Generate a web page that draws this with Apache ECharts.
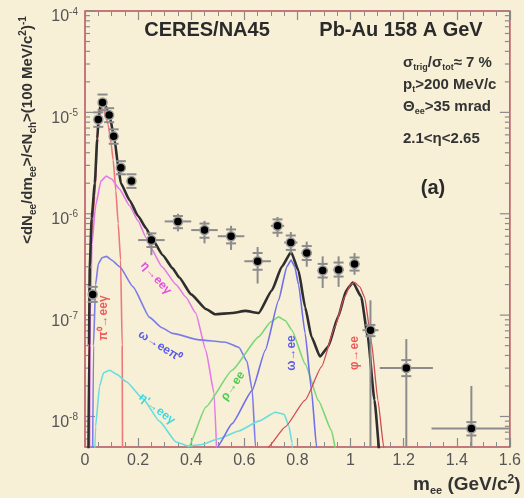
<!DOCTYPE html>
<html>
<head>
<meta charset="utf-8">
<script src="https://cdn.jsdelivr.net/npm/echarts@6/dist/echarts.min.js"></script>
<style>
  html, body { margin: 0; padding: 0; background: #f7efd6; }
  #main { width: 524px; height: 498px; }
</style>
</head>
<body>
<div id="main"></div>
<script>
var chartDom = document.getElementById('main');
var myChart = echarts.init(chartDom);

// data points (m_ee, yield) with stat / sys errors
var dataX   = [0.029, 0.050, 0.066, 0.091, 0.108, 0.135, 0.175, 0.25, 0.35, 0.45, 0.55, 0.65, 0.725, 0.775, 0.835, 0.895, 0.955, 1.015, 1.075, 1.21, 1.455];
var dataY   = [1.6e-7, 8.5e-6, 1.25e-5, 9.4e-6, 5.8e-6, 2.85e-6, 2.1e-6, 5.5e-7, 8.4e-7, 6.9e-7, 6.0e-7, 3.4e-7, 7.6e-7, 5.2e-7, 4.1e-7, 2.75e-7, 2.8e-7, 3.2e-7, 7.1e-8, 3.0e-8, 7.6e-9];
var xErr    = [0.004, 0.004, 0.004, 0.004, 0.004, 0.004, 0.004, 0.05, 0.05, 0.05, 0.05, 0.05, 0.025, 0.025, 0.02, 0.02, 0.02, 0.02, 0.03, 0.1, 0.15];
var statLo  = [1.4e-7, 7.9e-6, 1.16e-5, 8.7e-6, 5.4e-6, 2.6e-6, 1.9e-6, 3.9e-7, 6.7e-7, 5.1e-7, 4.4e-7, 2.05e-7, 5.9e-7, 4.05e-7, 3.0e-7, 1.85e-7, 1.9e-7, 2.5e-7, 1e-9, 1e-9, 1e-9];
var statHi  = [1.8e-7, 9.1e-6, 1.34e-5, 1.0e-5, 6.2e-6, 3.1e-6, 2.3e-6, 6.5e-7, 1.0e-6, 8.5e-7, 7.6e-7, 4.7e-7, 9.3e-7, 6.6e-7, 5.3e-7, 3.8e-7, 3.8e-7, 4.1e-7, 1.4e-7, 5.8e-8, 2.0e-8];
var sysLo   = [1.35e-7, 7.2e-6, 1.05e-5, 8.0e-6, 4.9e-6, 2.45e-6, 1.8e-6, 4.7e-7, 7.2e-7, 5.8e-7, 5.1e-7, 2.8e-7, 6.5e-7, 4.4e-7, 3.5e-7, 2.35e-7, 2.4e-7, 2.75e-7, 6.2e-8, 2.5e-8, 6.5e-9];
var sysHi   = [1.9e-7, 1.0e-5, 1.5e-5, 1.1e-5, 6.8e-6, 3.3e-6, 2.45e-6, 6.4e-7, 9.5e-7, 8.0e-7, 7.0e-7, 4.1e-7, 8.8e-7, 6.1e-7, 4.8e-7, 3.2e-7, 3.3e-7, 3.7e-7, 8.0e-8, 3.6e-8, 8.8e-9];

// cocktail curves [m_ee, yield]
var pi0Dalitz = [[0.011,1e-9],[0.014,3e-8],[0.017,2e-7],[0.025,6e-7],[0.037,1.5e-6],[0.046,4.8e-6],[0.053,8.5e-6],[0.062,1.1e-5],[0.072,1.05e-5],[0.087,7.6e-6],[0.098,5e-6],[0.106,3.4e-6],[0.116,1.7e-6],[0.125,8e-7],[0.134,3.5e-7],[0.14,5e-8],[0.142,1e-9]];
var etaDalitz = [[0.016,1e-9],[0.02,1e-7],[0.026,5e-7],[0.04,1.2e-6],[0.06,2.1e-6],[0.08,2.35e-6],[0.1,2.2e-6],[0.13,1.75e-6],[0.168,1.2e-6],[0.2,8.5e-7],[0.23,5.8e-7],[0.25,4.5e-7],[0.29,3.0e-7],[0.343,2.0e-7],[0.38,1.5e-7],[0.417,1.05e-7],[0.455,4.5e-8],[0.486,1.7e-8],[0.505,1e-9]];
var omegaDalitz = [[0.027,1e-9],[0.032,5e-8],[0.04,2e-7],[0.05,3.2e-7],[0.065,3.7e-7],[0.081,3.8e-7],[0.1,3.5e-7],[0.131,3.0e-7],[0.181,1.9e-7],[0.243,9.5e-8],[0.29,7.5e-8],[0.33,6.6e-8],[0.43,5.7e-8],[0.53,5.4e-8],[0.58,4.8e-8],[0.61,3.5e-8],[0.63,1.8e-8],[0.642,5e-9],[0.648,1e-9]];
var etaPrimeDalitz = [[0.029,1e-9],[0.04,8e-9],[0.055,2e-8],[0.07,2.7e-8],[0.093,2.86e-8],[0.12,2.6e-8],[0.156,2.2e-8],[0.218,1.5e-8],[0.28,9e-9],[0.343,5.6e-9],[0.39,5.1e-9],[0.44,5.3e-9],[0.5,6.0e-9],[0.58,7.2e-9],[0.654,9e-9],[0.717,1.1e-8],[0.75,1.05e-8],[0.768,8e-9],[0.78,5.5e-9],[0.79,1e-9]];
var rhoEE = [[0.375,1e-9],[0.39,5e-9],[0.455,1.24e-8],[0.554,2.86e-8],[0.654,6.1e-8],[0.70,8.6e-8],[0.729,9.6e-8],[0.755,8.8e-8],[0.779,7.1e-8],[0.829,3.3e-8],[0.879,1.44e-8],[0.928,7.3e-9],[0.95,4e-9],[0.955,1e-9]];
var omegaEE = [[0.49,1e-9],[0.498,5e-9],[0.554,8.5e-9],[0.629,1.8e-8],[0.679,4.5e-8],[0.729,1.4e-7],[0.76,3.0e-7],[0.776,3.5e-7],[0.79,3.0e-7],[0.804,2.0e-7],[0.829,6.6e-8],[0.853,1.8e-8],[0.872,5e-9],[0.876,1e-9]];
var phiEE = [[0.675,1e-9],[0.69,5e-9],[0.754,7.9e-9],[0.829,1.45e-8],[0.891,3.1e-8],[0.941,7.65e-8],[0.978,1.52e-7],[1.0,2.0e-7],[1.015,2.1e-7],[1.035,1.9e-7],[1.053,1.5e-7],[1.078,5.6e-8],[1.103,1.45e-8],[1.125,5e-9],[1.13,1e-9]];
var cocktailSum = [[0.012,1e-9],[0.015,5e-8],[0.018,3e-7],[0.025,9e-7],[0.037,2e-6],[0.046,5.5e-6],[0.053,1.0e-5],[0.063,1.3e-5],[0.075,1.2e-5],[0.093,9.1e-6],[0.112,5.3e-6],[0.125,2.9e-6],[0.135,2.0e-6],[0.168,1.36e-6],[0.2,9.5e-7],[0.23,7.2e-7],[0.25,5.8e-7],[0.293,3.9e-7],[0.33,2.9e-7],[0.355,2.35e-7],[0.4,1.6e-7],[0.455,1.15e-7],[0.49,1.02e-7],[0.554,1.05e-7],[0.604,1.1e-7],[0.654,1.05e-7],[0.704,1.76e-7],[0.741,3.0e-7],[0.776,4.2e-7],[0.804,2.75e-7],[0.829,1.2e-7],[0.853,6.1e-8],[0.885,3.9e-8],[0.916,4.9e-8],[0.953,9.6e-8],[0.984,1.76e-7],[1.009,2.1e-7],[1.04,1.52e-7],[1.065,6.1e-8],[1.09,1.45e-8],[1.115,3e-9],[1.12,1e-9]];

// y ticks: decades with labels, log minor ticks 2..9
var yMajorTicks = [1e-8, 1e-7, 1e-6, 1e-5, 1e-4];
var yMajorLabels = ['-8', '-7', '-6', '-5', '-4'];
var yMinorTicks = [];
for (var d = -9; d <= -5; d++) {
    for (var m = 2; m <= 9; m++) {
        var v = m * Math.pow(10, d);
        if (v > 5e-9 && v < 1e-4) yMinorTicks.push([0, v]);
    }
}

var FONT = '"Liberation Sans", Arial, sans-serif';
var TICK = '#8a8a8a';

function curve(name, data, color, width) {
    return {
        name: name, type: 'line', data: data, showSymbol: false,
        smooth: 0.15, smoothMonotone: 'x', clip: true,
        lineStyle: { color: color, width: width || 1.5 },
        silent: true, z: 3
    };
}

function label(text, x, y, color, rot) {
    return {
        type: 'text', x: x, y: y, rotation: (rot || 0) * Math.PI / 180, z: 10,
        style: { text: text, fill: color, font: 'bold 12px ' + FONT, align: 'center', verticalAlign: 'middle' }
    };
}

function frameTicks(len, withLabel) {
    return function (params, api) {
        var y = api.coord([0, api.value(1)])[1];
        var cs = params.coordSys;
        var kids = [
            { type: 'line', shape: { x1: cs.x, y1: y, x2: cs.x + len, y2: y }, style: { stroke: TICK, lineWidth: 1.2 } },
            { type: 'line', shape: { x1: cs.x + cs.width - len, y1: y, x2: cs.x + cs.width, y2: y }, style: { stroke: TICK, lineWidth: 1.2 } }
        ];
        if (withLabel) {
            kids.push({
                type: 'text', x: cs.x - 7, y: y + 6,
                style: {
                    text: '{b|10}{e|' + yMajorLabels[params.dataIndex] + '}',
                    align: 'right', verticalAlign: 'middle',
                    rich: {
                        b: { fontSize: 16, fill: '#555', lineHeight: 20, fontFamily: FONT },
                        e: { fontSize: 10, fill: '#555', lineHeight: 10, verticalAlign: 'top', fontFamily: FONT }
                    }
                }
            });
        }
        return { type: 'group', children: kids };
    };
}

var pointData = dataX.map(function (x, i) {
    return [x, dataY[i], xErr[i], statLo[i], statHi[i], sysLo[i], sysHi[i]];
});

var option = {
    backgroundColor: '#f7efd6',
    animation: false,
    grid: { left: 85, right: 11, top: 11, bottom: 51, show: true, borderColor: '#b8505e', borderWidth: 1.5, backgroundColor: 'transparent' },
    xAxis: [{
        type: 'value', min: 0, max: 1.6, interval: 0.2,
        axisLine: { show: false }, splitLine: { show: false },
        axisTick: { inside: true, length: 9, lineStyle: { color: TICK, width: 1.2 } },
        minorTick: { show: true, splitNumber: 4, length: 5, lineStyle: { color: TICK, width: 1 } },
        axisLabel: { fontSize: 16, color: '#555', margin: 6, fontFamily: FONT }
    }, {
        type: 'value', min: 0, max: 1.6, interval: 0.2, position: 'top',
        axisLine: { show: false }, splitLine: { show: false },
        axisTick: { inside: true, length: 9, lineStyle: { color: TICK, width: 1.2 } },
        minorTick: { show: true, splitNumber: 4, length: 5, lineStyle: { color: TICK, width: 1 } },
        axisLabel: { show: false }
    }],
    yAxis: {
        type: 'log', min: 5e-9, max: 1e-4, logBase: 10,
        axisLine: { show: false }, splitLine: { show: false },
        axisTick: { show: false }, axisLabel: { show: false }
    },
    graphic: [
        {
            type: 'text', x: 28, y: 130, rotation: Math.PI / 2, z: 10,
            style: {
                text: '{m|<dN}{s|ee}{m|/dm}{s|ee}{m|>/<N}{s|ch}{m|>(100 MeV/c}{p|2}{m|)}{p|-1}',
                align: 'center', verticalAlign: 'middle', fill: '#333',
                rich: {
                    m: { fontSize: 15, fontWeight: 'bold', lineHeight: 20, fontFamily: FONT, fill: '#333' },
                    s: { fontSize: 10, fontWeight: 'bold', lineHeight: 12, verticalAlign: 'bottom', fontFamily: FONT, fill: '#333' },
                    p: { fontSize: 10, fontWeight: 'bold', lineHeight: 12, verticalAlign: 'top', fontFamily: FONT, fill: '#333' }
                }
            }
        },
        {
            type: 'text', x: 413, y: 485, z: 10,
            style: {
                text: '{m|m}{s|ee}{m| (GeV/c}{p|2}{m|)}',
                align: 'left', verticalAlign: 'middle', fill: '#333',
                rich: {
                    m: { fontSize: 19, fontWeight: 'bold', lineHeight: 22, fontFamily: FONT, fill: '#333' },
                    s: { fontSize: 11, fontWeight: 'bold', lineHeight: 13, verticalAlign: 'bottom', fontFamily: FONT, fill: '#333' },
                    p: { fontSize: 12, fontWeight: 'bold', lineHeight: 13, verticalAlign: 'top', fontFamily: FONT, fill: '#333' }
                }
            }
        },
        { type: 'text', x: 207, y: 30, z: 10, style: { text: 'CERES/NA45', fill: '#2a2a2a', font: 'bold 20px ' + FONT, align: 'center', verticalAlign: 'middle' } },
        { type: 'text', x: 401, y: 30, z: 10, style: { text: 'Pb-Au 158 A GeV', fill: '#2a2a2a', font: 'bold 20px ' + FONT, align: 'center', verticalAlign: 'middle' } },
        {
            type: 'text', x: 403, y: 63, z: 10,
            style: {
                text: '{m|σ}{s|trig}{m|/σ}{s|tot}{m|≈ 7 %}', align: 'left', verticalAlign: 'middle',
                rich: {
                    m: { fontSize: 15, fontWeight: 'bold', lineHeight: 18, fontFamily: FONT, fill: '#333' },
                    s: { fontSize: 9, fontWeight: 'bold', lineHeight: 10, verticalAlign: 'bottom', fontFamily: FONT, fill: '#333' }
                }
            }
        },
        {
            type: 'text', x: 403, y: 85, z: 10,
            style: {
                text: '{m|p}{s|t}{m|>200 MeV/c}', align: 'left', verticalAlign: 'middle',
                rich: {
                    m: { fontSize: 15, fontWeight: 'bold', lineHeight: 18, fontFamily: FONT, fill: '#333' },
                    s: { fontSize: 9, fontWeight: 'bold', lineHeight: 10, verticalAlign: 'bottom', fontFamily: FONT, fill: '#333' }
                }
            }
        },
        {
            type: 'text', x: 403, y: 107, z: 10,
            style: {
                text: '{m|Θ}{s|ee}{m|>35 mrad}', align: 'left', verticalAlign: 'middle',
                rich: {
                    m: { fontSize: 15, fontWeight: 'bold', lineHeight: 18, fontFamily: FONT, fill: '#333' },
                    s: { fontSize: 9, fontWeight: 'bold', lineHeight: 10, verticalAlign: 'bottom', fontFamily: FONT, fill: '#333' }
                }
            }
        },
        { type: 'text', x: 403, y: 139, z: 10, style: { text: '2.1<η<2.65', fill: '#333', font: 'bold 15px ' + FONT, align: 'left', verticalAlign: 'middle' } },
        { type: 'text', x: 433, y: 188, z: 10, style: { text: '(a)', fill: '#2a2a2a', font: 'bold 20px ' + FONT, align: 'center', verticalAlign: 'middle' } },
        label('π⁰→eeγ', 104, 318, '#ee5a5a', 90),
        label('η→eeγ', 156, 278, '#e44ee4', -48),
        label('ω→eeπ⁰', 160, 346, '#5a5ae8', -32),
        label('η\'→eeγ', 157, 409, '#3cd8e0', -38),
        label('ρ→ee', 233, 386, '#4ccc4c', 55),
        label('ω→ee', 292, 353, '#5a5ae8', 90),
        label('φ→ee', 355, 353, '#ee5a5a', 90)
    ],
    series: [
        curve('π0→eeγ', pi0Dalitz, '#ec7a7a', 1.6),
        curve('η→eeγ', etaDalitz, '#e47ae8', 1.6),
        curve('ω→eeπ0', omegaDalitz, '#7c7ce8', 1.6),
        curve('η\'→eeγ', etaPrimeDalitz, '#68dede', 1.6),
        curve('ρ→ee', rhoEE, '#78d878', 1.6),
        curve('ω→ee', omegaEE, '#7070ea', 1.6),
        curve('sum', cocktailSum, '#2e2e2e', 2.6),
        curve('φ→ee', phiEE, '#d24a52', 1.3),
        {
            type: 'custom', data: yMajorTicks.map(function (v) { return [0, v]; }), silent: true, z: 2,
            renderItem: frameTicks(10, true)
        },
        {
            type: 'custom', data: yMinorTicks, silent: true, z: 2,
            renderItem: frameTicks(5, false)
        },
        {
            // data points with errors
            type: 'custom', data: pointData, clip: true, z: 5, silent: true,
            encode: { x: 0, y: 1 },
            renderItem: function (params, api) {
                var x = api.value(0), y = api.value(1), xe = api.value(2);
                var c = api.coord([x, y]);
                var l = api.coord([x - xe, y]);
                var r = api.coord([x + xe, y]);
                var lo = api.coord([x, api.value(3)]);
                var hi = api.coord([x, api.value(4)]);
                var sl = api.coord([x, api.value(5)]);
                var sh = api.coord([x, api.value(6)]);
                var st = { stroke: '#8c8c8c', lineWidth: 2 };
                return {
                    type: 'group', children: [
                        { type: 'line', shape: { x1: l[0], y1: c[1], x2: r[0], y2: c[1] }, style: st },
                        { type: 'line', shape: { x1: c[0], y1: lo[1], x2: c[0], y2: hi[1] }, style: st },
                        { type: 'line', shape: { x1: c[0] - 5, y1: sl[1], x2: c[0] + 5, y2: sl[1] }, style: st },
                        { type: 'line', shape: { x1: c[0] - 5, y1: sh[1], x2: c[0] + 5, y2: sh[1] }, style: st },
                        { type: 'circle', shape: { cx: c[0], cy: c[1], r: 4.5 }, style: { fill: '#000', stroke: '#999', lineWidth: 1.5 } }
                    ]
                };
            }
        }
    ]
};

option && myChart.setOption(option);
</script>
</body>
</html>
